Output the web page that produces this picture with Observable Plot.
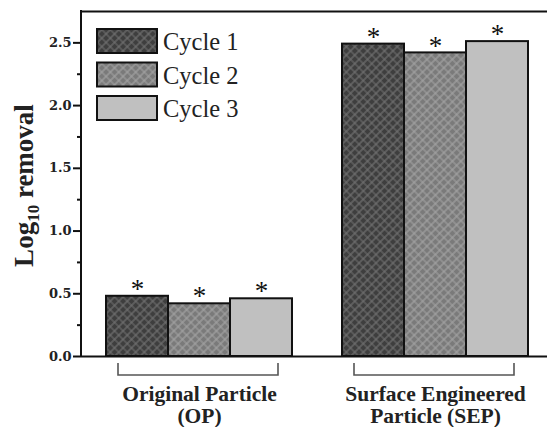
<!DOCTYPE html>
<html><head><meta charset="utf-8">
<script src="https://cdn.jsdelivr.net/npm/d3@7"></script>
<script src="https://cdn.jsdelivr.net/npm/@observablehq/plot@0.6"></script>
<style>
html,body{margin:0;padding:0;background:#fff;overflow:hidden}
#chart{width:547px;height:427px}
</style>
</head><body>
<svg width="0" height="0" style="position:absolute">
  <defs>
    <pattern id="hatch1" width="6" height="6" patternUnits="userSpaceOnUse" patternTransform="rotate(45)">
      <rect width="6" height="6" fill="#3e3e3e"/>
      <path d="M0 3H6M3 0V6" stroke="#727272" stroke-width="1.2"/>
    </pattern>
    <pattern id="hatch2" width="6" height="6" patternUnits="userSpaceOnUse" patternTransform="rotate(45)">
      <rect width="6" height="6" fill="#7a7a7a"/>
      <path d="M0 3H6M3 0V6" stroke="#a4a4a4" stroke-width="1.2"/>
    </pattern>
  </defs>
</svg>
<div id="chart"></div>
<script>
// ---- data ----
const groups = ["OP", "SEP"];
const groupLabels = ["Original Particle\n(OP)", "Surface Engineered\nParticle (SEP)"];
const cycles = ["Cycle 1", "Cycle 2", "Cycle 3"];
const cycle1 = [0.48, 2.49];
const cycle2 = [0.42, 2.42];
const cycle3 = [0.46, 2.51];
const significance = ["*", "*", "*", "*", "*", "*"];
const yMajorTicks = [0, 0.5, 1.0, 1.5, 2.0, 2.5];
const yMinorTicks = [0.25, 0.75, 1.25, 1.75, 2.25];
const cycleFills = ["url(#hatch1)", "url(#hatch2)", "#c0c0c0"];

const series = [cycle1, cycle2, cycle3];
const rows = [];
groups.forEach((g, i) => cycles.forEach((c, j) => rows.push({group: g, cycle: c, value: series[j][i], fill: cycleFills[j]})));
rows.forEach((r, k) => r.mark = significance[k]);
const groupRows = groups.map((g, i) => ({group: g, label: groupLabels[i]}));

const serif = "'Liberation Serif', 'DejaVu Serif', serif";
const tickFont = "'DejaVu Serif', serif";

const plot = Plot.plot({
  width: 547,
  height: 427,
  marginLeft: 81,
  marginRight: -6,
  marginTop: 11,
  marginBottom: 71,
  style: {background: "#fff", overflow: "hidden"},
  fx: {domain: groups, paddingInner: 0, paddingOuter: 0, axis: null, label: null},
  x: {domain: cycles, paddingInner: 0, paddingOuter: 0.383, align: 0.5, axis: null, label: null},
  y: {domain: [0, 2.75], axis: null},
  marks: [
    ...cycles.map((c, j) => Plot.barY(rows.filter(d => d.cycle === c), {
      fx: "group", x: "cycle", y: "value", fill: cycleFills[j], stroke: "#111", strokeWidth: 2
    })),
    Plot.text(rows, {fx: "group", x: "cycle", y: "value", text: "mark", dy: -7, lineAnchor: "middle",
      fontSize: 27, fontFamily: serif, fill: "#111"}),
    Plot.ruleY([0], {stroke: "#111", strokeWidth: 2}),
    Plot.ruleY([2.75], {stroke: "#111", strokeWidth: 2}),
    Plot.axisY(yMajorTicks, {tickSize: 8, tickPadding: 2, strokeWidth: 2, stroke: "#111",
      tickFormat: d3.format(".1f"), fontSize: 13, fontWeight: "bold", fontFamily: tickFont, fill: "#222", label: null}),
    Plot.axisY(yMinorTicks, {tickSize: 4, strokeWidth: 2, stroke: "#111", tickFormat: () => "", label: null}),
    Plot.text(groupRows, {fx: "group", text: "label", frameAnchor: "bottom", dy: 28, lineAnchor: "top",
      lineHeight: 1.05, fontSize: 21.5, fontWeight: "bold", fontFamily: serif, fill: "#222"})
  ]
});
document.getElementById("chart").appendChild(plot);

// ---- decorations drawn from the plot's own scales ----
const svg = d3.select(plot);
const ys = plot.scale("y");
const fxs = plot.scale("fx");
const y0 = ys.apply(0), yTop = ys.apply(2.75);
const left = 81;
// left spine
svg.append("line").attr("x1", left).attr("x2", left).attr("y1", yTop - 1).attr("y2", y0 + 1)
  .attr("stroke", "#111").attr("stroke-width", 2);
// group brackets
groups.forEach(g => {
  const x0 = fxs.apply(g), bw = fxs.bandwidth;
  const a = x0 + 37, b = x0 + bw - 39;
  svg.append("path")
    .attr("d", `M${a},${y0 + 7}V${y0 + 19}H${b}V${y0 + 7}`)
    .attr("fill", "none").attr("stroke", "#555").attr("stroke-width", 1.6);
});
// y axis title
const t = svg.append("text")
  .attr("transform", `translate(33,${(y0 + yTop) / 2 + 2}) rotate(-90)`)
  .attr("text-anchor", "middle")
  .attr("font-family", serif).attr("font-weight", "bold").attr("font-size", 27).attr("fill", "#222");
t.append("tspan").text("Log");
t.append("tspan").attr("font-size", 17).attr("dy", 6).text("10");
t.append("tspan").attr("dy", -6).text("\u00a0removal");
// legend
const lg = svg.append("g");
cycles.forEach((c, j) => {
  const yy = 29 + j * 33.5;
  lg.append("rect").attr("x", 97).attr("y", yy).attr("width", 60).attr("height", 24)
    .attr("fill", cycleFills[j]).attr("stroke", "#111").attr("stroke-width", 2);
  lg.append("text").attr("x", 163).attr("y", yy + 21).text(c)
    .attr("text-anchor", "start")
    .attr("font-family", serif).attr("font-size", 24.5).attr("fill", "#222");
});
</script>
</body></html>
